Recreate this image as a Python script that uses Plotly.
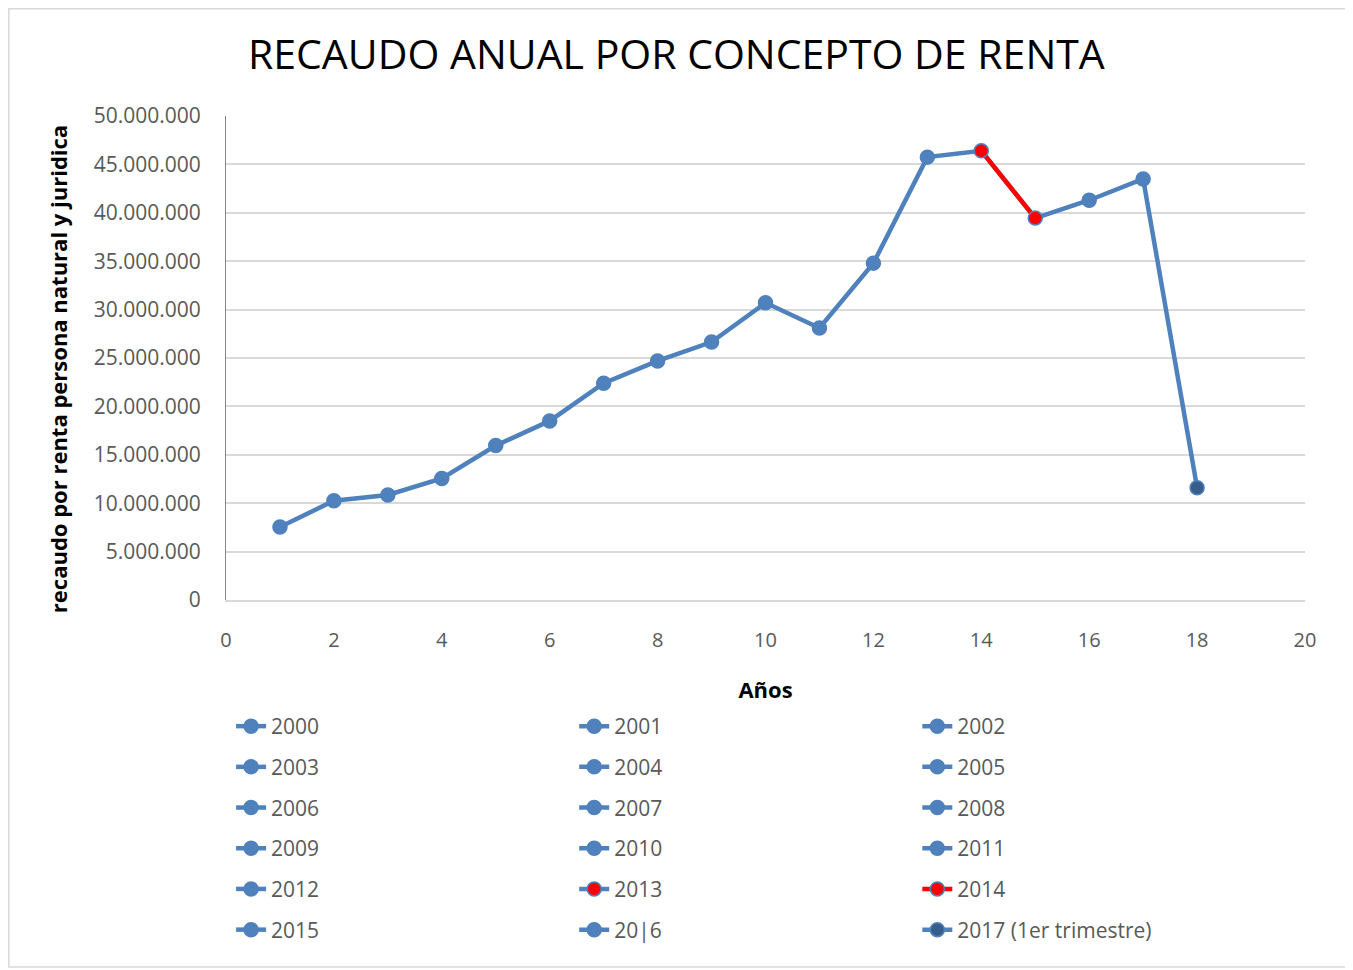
import plotly.graph_objects as go

years = ["2000", "2001", "2002", "2003", "2004", "2005", "2006", "2007", "2008",
         "2009", "2010", "2011", "2012", "2013", "2014", "2015", "20|6",
         "2017 (1er trimestre)"]
x_vals = list(range(1, 19))
values = [7.55e6, 10.25e6, 10.85e6, 12.55e6, 15.95e6, 18.5e6, 22.4e6, 24.7e6,
          26.65e6, 30.7e6, 28.1e6, 34.8e6, 45.75e6, 46.4e6, 39.45e6, 41.3e6,
          43.5e6, 11.6e6]

BLUE = "#4F81BD"
RED = "#FF0000"
DARK = "#385D8A"
line_colors = [BLUE] * 18
line_colors[14] = RED
marker_colors = [BLUE] * 18
marker_colors[13] = RED
marker_colors[14] = RED
marker_colors[17] = DARK

fig = go.Figure()
fig.add_trace(go.Scatter(x=x_vals, y=values, mode="lines",
                         line=dict(color=BLUE, width=4.5), showlegend=False,
                         hoverinfo="skip"))
fig.add_trace(go.Scatter(x=x_vals[13:15], y=values[13:15], mode="lines",
                         line=dict(color=RED, width=4.5), showlegend=False,
                         hoverinfo="skip"))
legend_ids = ["legend", "legend2", "legend3"]
for i, yr in enumerate(years):
    fig.add_trace(go.Scatter(
        x=[x_vals[i]], y=[values[i]], mode="lines+markers", name=yr,
        legend=legend_ids[i % 3], legendgroup=yr,
        line=dict(color=line_colors[i], width=4.5),
        marker=dict(color=marker_colors[i], size=14,
                    line=dict(color=BLUE, width=1.5)),
    ))

leg_common = dict(orientation="v", y=-0.219, yanchor="top", xanchor="left",
                  tracegroupgap=10.4, font=dict(size=21, color="#595959"),
                  bgcolor="rgba(0,0,0,0)")

fig.update_layout(
    width=1353, height=970,
    paper_bgcolor="white", plot_bgcolor="white",
    margin=dict(l=218, r=56, t=108, b=378),
    font=dict(family="Open Sans, Liberation Sans, sans-serif", color="#595959"),
    title=dict(text="RECAUDO ANUAL POR CONCEPTO DE RENTA",
               x=0.494, xanchor="center", y=0.9515, yanchor="middle",
               font=dict(size=41, color="#000000")),
    xaxis=dict(range=[0, 20], dtick=2, tick0=0, showgrid=False,
               showline=True, linecolor="#D9D9D9", linewidth=1.5,
               zeroline=False, ticks="", tickfont=dict(size=20, color="#595959"),
               ticklabelstandoff=21,
               title=dict(text="<b>Años</b>", font=dict(size=22, color="#000000"),
                          standoff=31)),
    yaxis=dict(range=[0, 50e6], dtick=5e6, showgrid=True, gridcolor="#D9D9D9",
               gridwidth=1.5, showline=True, linecolor="#868686", linewidth=1,
               zeroline=False, ticks="", tickformat=",.0f",
               tickfont=dict(size=21, color="#595959"), ticklabelstandoff=20),
    separators=",.",
    legend=dict(x=0.0047, **leg_common),
    legend2=dict(x=0.3227, **leg_common),
    legend3=dict(x=0.6407, **leg_common),
    annotations=[dict(text="<b>recaudo por renta persona natural y juridica</b>",
                      xref="paper", yref="paper", x=-0.1557, y=0.477,
                      xanchor="center", yanchor="middle", textangle=-90,
                      showarrow=False, font=dict(size=22, color="#000000"))],
    shapes=[dict(type="rect", xref="paper", yref="paper",
                 x0=-0.2013, x1=1.0389, y0=-0.7583, y1=1.2216,
                 line=dict(color="#D9D9D9", width=1.5), layer="below")],
)

fig.write_html("out.html")
